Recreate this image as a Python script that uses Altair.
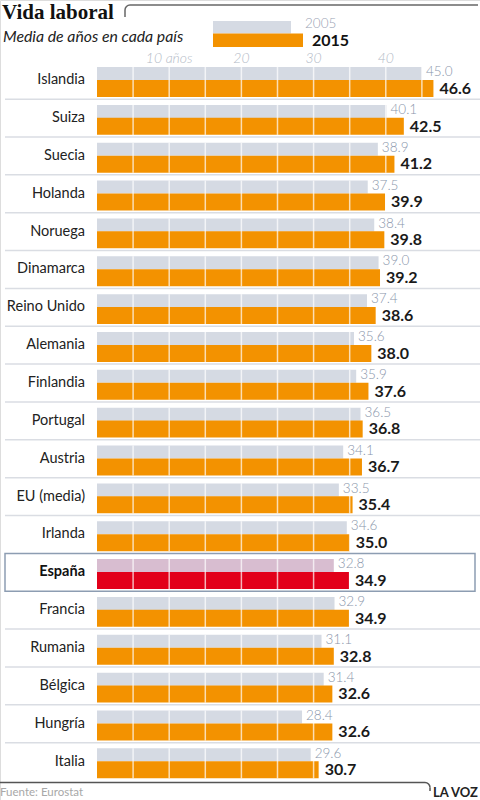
import altair as alt
import pandas as pd

countries = ["Islandia", "Suiza", "Suecia", "Holanda", "Noruega", "Dinamarca",
             "Reino Unido", "Alemania", "Finlandia", "Portugal", "Austria",
             "EU (media)", "Irlanda", "España", "Francia", "Rumania", "Bélgica",
             "Hungría", "Italia"]
v2005 = [45.0, 40.1, 38.9, 37.5, 38.4, 39.0, 37.4, 35.6, 35.9, 36.5, 34.1,
         33.5, 34.6, 32.8, 32.9, 31.1, 31.4, 28.4, 29.6]
v2015 = [46.6, 42.5, 41.2, 39.9, 39.8, 39.2, 38.6, 38.0, 37.6, 36.8, 36.7,
         35.4, 35.0, 34.9, 34.9, 32.8, 32.6, 32.6, 30.7]
tick_values = [10, 20, 30, 40]
tick_labels = ["10 años", "20", "30", "40"]
grid_values = [5, 10, 15, 20, 25, 30, 35, 40, 45]
highlight = "España"

FONT = "Lato"
df = pd.DataFrame({"country": countries, "v2005": v2005, "v2015": v2015})
df["l2005"] = df["v2005"].map(lambda v: f"{v:.1f}")
df["l2015"] = df["v2015"].map(lambda v: f"{v:.1f}")

grid_df = pd.DataFrame([{"country": c, "g": g} for c in countries for g in grid_values])
sep_df = pd.DataFrame({"country": [c for i, c in enumerate(countries)
                                   if i > 0 and c not in (highlight, "Francia")]})
tick_df = pd.DataFrame({"value": tick_values, "label": tick_labels})

xscale = alt.Scale(domain=[0, 53.05], range=[97, 480], nice=False, zero=True)
yscale = alt.Scale(domain=countries, range=[61.3, 780.5], paddingInner=0, paddingOuter=0)

def X(field):
    return alt.X(field, scale=xscale, axis=None)

def Y(bp=None):
    if bp is None:
        return alt.Y("country:N", scale=yscale, axis=None, sort=countries)
    return alt.Y("country:N", scale=yscale, axis=None, sort=countries, bandPosition=bp)

is_hl = alt.datum.country == highlight
base = alt.Chart(df)

bars05 = base.mark_bar(size=13, yOffset=-6.7).encode(
    x=X("v2005:Q"), y=Y(),
    fill=alt.condition(is_hl, alt.value("#d8bdd0"), alt.value("#d5dae3")),
)
bars15 = base.mark_bar(size=17, yOffset=8.2).encode(
    x=X("v2015:Q"), y=Y(),
    fill=alt.condition(is_hl, alt.value("#e2001a"), alt.value("#f39200")),
)
grid = alt.Chart(grid_df).mark_tick(orient="vertical", size=30, thickness=1.5, color="white", yOffset=1.8).encode(
    x=X("g:Q"), y=Y(),
)
lab05 = base.mark_text(align="left", baseline="middle", dx=4, dy=-8, font=FONT, fontSize=13.5,
                       fontWeight=300, color="#8a96ab").encode(x=X("v2005:Q"), y=Y(), text="l2005:N")
lab15 = base.mark_text(align="left", baseline="middle", dx=6, dy=8.5, font=FONT, fontSize=16,
                       fontWeight="bold", color="#1a1a1a").encode(x=X("v2015:Q"), y=Y(), text="l2015:N")
names = base.transform_filter(alt.datum.country != highlight).mark_text(
    align="right", baseline="middle", font=FONT, fontSize=14.5, color="#222", dy=0).encode(
    x=alt.value(85), y=Y(), text="country:N")
name_hl = base.transform_filter(is_hl).mark_text(
    align="right", baseline="middle", font=FONT, fontSize=14.5, fontWeight="bold", color="#111").encode(
    x=alt.value(85), y=Y(), text="country:N")
seps = alt.Chart(sep_df).mark_rule(color="#dadde3", strokeWidth=1.5).encode(
    y=Y(0), x=alt.value(5), x2=alt.value(480))
box = base.transform_filter(is_hl).mark_rect(
    fillOpacity=0, stroke="#8d9db2", strokeWidth=1.5).encode(
    y=Y(), x=alt.value(5), x2=alt.value(475))
ticks = alt.Chart(tick_df).mark_text(baseline="middle", font=FONT, fontSize=14, fontStyle="italic",
                                     fontWeight=300, color="#b3bac6").encode(
    x=X("value:Q"), y=alt.value(58.5), text="label:N")

one = alt.Chart(pd.DataFrame({"k": [0]}))
title = one.mark_text(align="left", baseline="alphabetic", font="Liberation Serif", fontSize=21,
                      fontWeight="bold", color="#111").encode(
    x=alt.value(2), y=alt.value(19), text=alt.value("Vida laboral"))
subtitle = one.mark_text(align="left", baseline="middle", font=FONT, fontSize=15.8, fontStyle="italic",
                         color="#222").encode(x=alt.value(3), y=alt.value(36.5),
                                              text=alt.value("Media de años en cada país"))
top_line = one.mark_rule(color="#666", strokeWidth=1.5).encode(
    x=alt.value(130), x2=alt.value(478), y=alt.value(5))
top_corner = one.mark_arc(fillOpacity=0, stroke="#666", strokeWidth=1.5, radius=5, radius2=5,
                          theta=4.712, theta2=6.283).encode(x=alt.value(130), y=alt.value(10))
top_vert = one.mark_rule(color="#666", strokeWidth=1.5).encode(
    x=alt.value(125), y=alt.value(10), y2=alt.value(17))
leg05 = one.mark_rect(color="#d5dae3").encode(x=alt.value(213), x2=alt.value(291), y=alt.value(21), y2=alt.value(33.5))
leg15 = one.mark_rect(color="#f39200").encode(x=alt.value(213), x2=alt.value(303), y=alt.value(33.5), y2=alt.value(47))
leg05t = one.mark_text(align="left", baseline="middle", font=FONT, fontSize=13.5, fontWeight=300,
                       color="#9aa3b4").encode(x=alt.value(305), y=alt.value(24), text=alt.value("2005"))
leg15t = one.mark_text(align="left", baseline="middle", font=FONT, fontSize=16, fontWeight="bold",
                       color="#111").encode(x=alt.value(312), y=alt.value(41), text=alt.value("2015"))
foot_line = one.mark_rule(color="#555", strokeWidth=1.5).encode(
    x=alt.value(0), x2=alt.value(425), y=alt.value(782.5))
foot_corner = one.mark_arc(fillOpacity=0, stroke="#555", strokeWidth=1.5, radius=5, radius2=5,
                           theta=0, theta2=1.571).encode(x=alt.value(425), y=alt.value(787.5))
foot_vert = one.mark_rule(color="#555", strokeWidth=1.5).encode(
    x=alt.value(430), y=alt.value(787.5), y2=alt.value(791))
source = one.mark_text(align="left", baseline="middle", font=FONT, fontSize=11.5, color="#a8a8a8").encode(
    x=alt.value(0), y=alt.value(793), text=alt.value("Fuente: Eurostat"))
brand = one.mark_text(align="left", baseline="middle", font=FONT, fontSize=13, fontWeight="bold",
                      color="#222").encode(x=alt.value(433), y=alt.value(793), text=alt.value("LA VOZ"))

chart = alt.layer(
    seps, bars05, bars15, grid, lab05, lab15, names, name_hl, box, ticks,
    title, subtitle, top_line, top_corner, top_vert, leg05, leg15, leg05t, leg15t,
    foot_line, foot_corner, foot_vert, source, brand,
).properties(
    width=480, height=800, autosize=alt.AutoSizeParams(type="none"), padding=0,
).configure_view(stroke=None).configure(background="white")

chart.save("out.html", embed_options={"renderer": "svg", "actions": False})
